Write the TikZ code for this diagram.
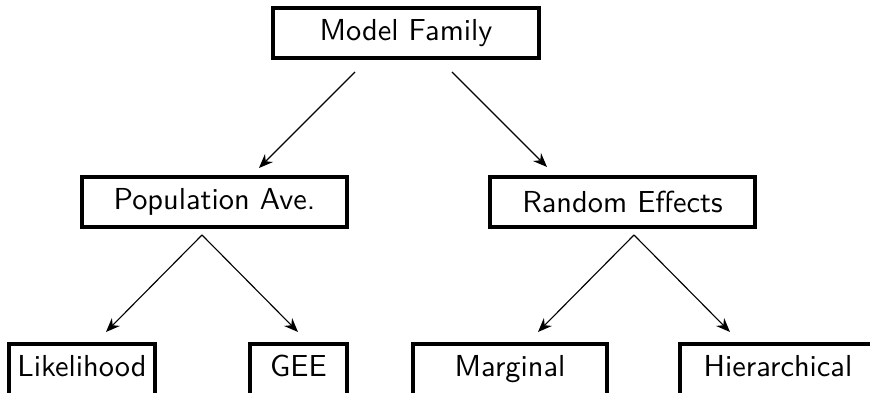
\documentclass[tikz,border=0pt]{standalone}
\usepackage{fontspec}
\usetikzlibrary{arrows.meta}
\tikzset{
  famnode/.style={draw,line width=1.1pt,minimum height=0.625cm,inner sep=0pt,
    font=\fontsize{10.8}{13}\sffamily\addfontfeatures{FakeStretch=1.07}},
  leafnode/.style={famnode,minimum height=0.7cm,text height=0.41cm,text depth=0.29cm},
  link/.style={-{Stealth[length=5pt,width=4pt]},thin}
}
\begin{document}
\begin{tikzpicture}
\useasboundingbox (0,0) rectangle (10.875,-4.9125);
\clip (0,0) rectangle (10.875,-4.9125);

% boxes
\node[famnode,minimum width=3.325cm] (model) at (5.075,-0.4125) {Model Family};
\node[famnode,minimum width=3.3125cm] (popave) at (2.681,-2.525) {Population Ave.};
\node[famnode,minimum width=3.3125cm] (randeff) at (7.781,-2.525) {Random Effects};
\node[leafnode,minimum width=1.825cm] (lik) at (1.025,-4.65) {Likelihood};
\node[leafnode,minimum width=1.2125cm] (gee) at (3.731,-4.65) {GEE};
\node[leafnode,minimum width=2.425cm] (marg) at (6.375,-4.65) {Marginal};
\node[leafnode,minimum width=2.45cm] (hier) at (9.725,-4.65) {Hierarchical};

% arrow ends
\coordinate (mf-l) at (4.4375,-0.9);
\coordinate (mf-r) at (5.65,-0.9);
\coordinate (pa-tip) at (3.2375,-2.1);
\coordinate (re-tip) at (6.8375,-2.0875);
\coordinate (pa-apex) at (2.525,-2.9375);
\coordinate (re-apex) at (7.925,-2.9375);
\coordinate (lik-tip) at (1.325,-4.15);
\coordinate (gee-tip) at (3.725,-4.15);
\coordinate (marg-tip) at (6.725,-4.15);
\coordinate (hier-tip) at (9.125,-4.15);

\draw[link] (mf-l) -- (pa-tip);
\draw[link] (mf-r) -- (re-tip);
\draw[link] (pa-apex) -- (lik-tip);
\draw[link] (pa-apex) -- (gee-tip);
\draw[link] (re-apex) -- (marg-tip);
\draw[link] (re-apex) -- (hier-tip);
\end{tikzpicture}
\end{document}
